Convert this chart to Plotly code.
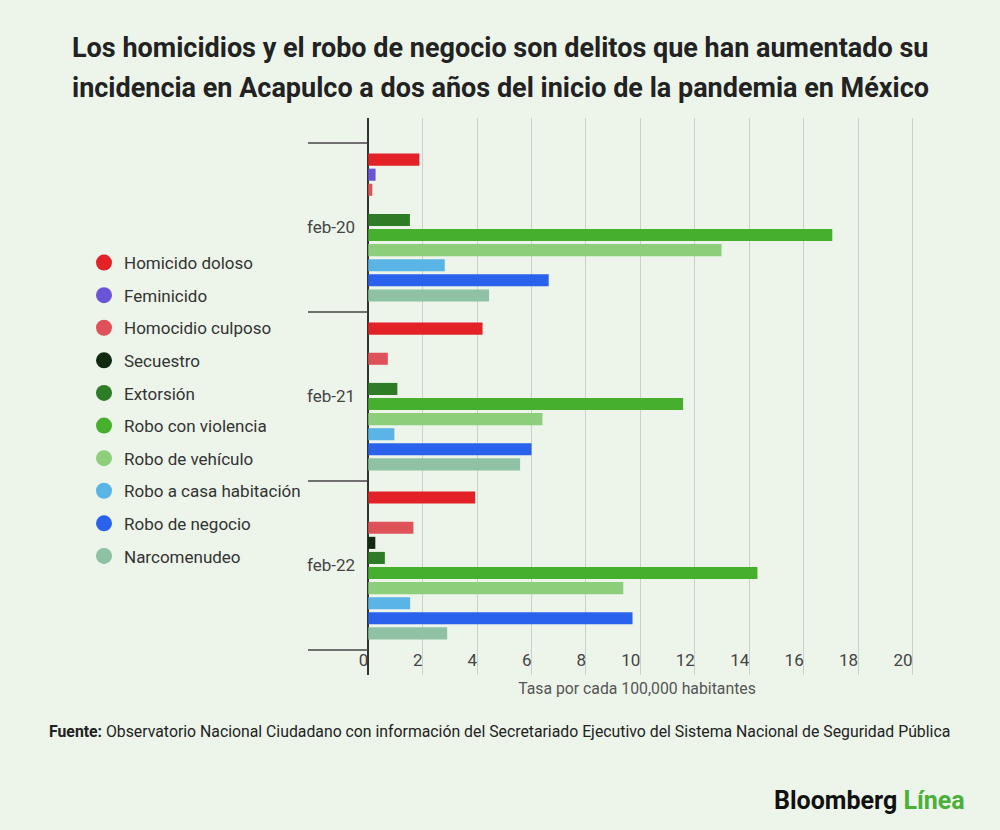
import plotly.graph_objects as go

periods = ["feb-20", "feb-21", "feb-22"]
crimes = ["Homicido doloso", "Feminicido", "Homocidio culposo", "Secuestro",
          "Extorsión", "Robo con violencia", "Robo de vehículo",
          "Robo a casa habitación", "Robo de negocio", "Narcomenudeo"]
colors = ["#E32227", "#6A55D9", "#E0525A", "#0F2A0F", "#2E7D26",
          "#46AF2E", "#8DCE7A", "#5BB4E6", "#2A62EE", "#8FC1A4"]

homicido_doloso = [1.88, 4.2, 3.93]
feminicido = [0.27, 0.0, 0.0]
homicidio_culposo = [0.15, 0.72, 1.66]
secuestro = [0.0, 0.0, 0.26]
extorsion = [1.53, 1.07, 0.61]
robo_violencia = [17.05, 11.57, 14.3]
robo_vehiculo = [12.98, 6.4, 9.37]
robo_casa = [2.81, 0.96, 1.54]
robo_negocio = [6.63, 6.0, 9.71]
narcomenudeo = [4.44, 5.58, 2.9]

series = [homicido_doloso, feminicido, homicidio_culposo, secuestro, extorsion,
          robo_violencia, robo_vehiculo, robo_casa, robo_negocio, narcomenudeo]

x_ticks = [0, 2, 4, 6, 8, 10, 12, 14, 16, 18, 20]

BG = "#EDF5EA"
FONT = "Roboto"

W, H = 1000, 830
ML, MR, MT, MB = 356, 82, 118, 155
PW, PH = W - ML - MR, H - MT - MB
XR = [-0.45, 20.2]


def px_x(p):
    return (p - ML) / PW


def px_y(p):
    return (H - MB - p) / PH


fig = go.Figure()
for name, vals, col in zip(crimes, series, colors):
    fig.add_trace(go.Bar(
        y=periods, x=vals, name=name, orientation="h",
        marker=dict(color=col, line=dict(width=0)),
        showlegend=False, hoverinfo="x+name",
    ))
for name, col in zip(crimes, colors):
    fig.add_trace(go.Scatter(
        x=[None], y=[None], mode="markers", name=name,
        marker=dict(symbol="circle", size=16, color=col),
        legendgroup=name, showlegend=True,
    ))

# category divider ticks on the left of the value axis
n = len(periods)
zero_paper = (0 - XR[0]) / (XR[1] - XR[0])
for k in range(n + 1):
    fig.add_shape(type="line", xref="paper", yref="y",
                  x0=px_x(308), x1=zero_paper, y0=k - 0.5, y1=k - 0.5,
                  line=dict(color="#444444", width=1.3))

fig.update_layout(
    width=W, height=H,
    paper_bgcolor=BG, plot_bgcolor=BG,
    margin=dict(l=ML, r=MR, t=MT, b=MB),
    barmode="group", bargap=0.107, bargroupgap=0.2,
    font=dict(family=FONT, color="#3a3a3a"),
    showlegend=True,
    legend=dict(
        x=px_x(84), xanchor="left", y=px_y(245), yanchor="top",
        font=dict(size=17, color="#333333", family=FONT),
        tracegroupgap=7.5, itemsizing="trace",
        bgcolor="rgba(0,0,0,0)",
    ),
    xaxis=dict(
        range=XR, tickvals=x_ticks, ticktext=[str(v) for v in x_ticks],
        showgrid=True, gridcolor="#C9D1C9", gridwidth=1,
        zeroline=True, zerolinecolor="#333333", zerolinewidth=2,
        showline=False,
        ticklabelposition="inside left",
        tickfont=dict(size=17, color="#444444", family=FONT),
        title=dict(text="Tasa por cada 100,000 habitantes",
                   font=dict(size=15.8, color="#555555", family=FONT),
                   standoff=14),
        fixedrange=True,
    ),
    yaxis=dict(
        categoryorder="array", categoryarray=periods,
        range=[n - 0.5 + 0.148, -0.648],
        showgrid=False, zeroline=False, showline=False,
        ticks="",
        tickfont=dict(size=17, color="#444444", family=FONT),
        fixedrange=True,
    ),
)

title_lines = [
    "Los homicidios y el robo de negocio son delitos que han aumentado su",
    "incidencia en Acapulco a dos años del inicio de la pandemia en México",
]
for line, ypx in zip(title_lines, [48, 88]):
    fig.add_annotation(
        text="<b>" + line + "</b>",
        xref="paper", yref="paper", x=px_x(500), y=px_y(ypx),
        xanchor="center", yanchor="middle", showarrow=False,
        font=dict(size=27, color="#222222", family=FONT),
    )

fig.add_annotation(
    text="<b>Fuente:</b> Observatorio Nacional Ciudadano con información del "
         "Secretariado Ejecutivo del Sistema Nacional de Seguridad Pública",
    xref="paper", yref="paper", x=px_x(47), y=px_y(731),
    xanchor="left", yanchor="middle", showarrow=False,
    font=dict(size=15.8, color="#222222", family=FONT),
)
fig.add_annotation(
    text="<b>Bloomberg</b> <b><span style='color:#4BAF3A'>Línea</span></b>",
    xref="paper", yref="paper", x=px_x(967), y=px_y(800),
    xanchor="right", yanchor="middle", showarrow=False,
    font=dict(size=25, color="#111111", family=FONT, weight=900),
)

fig.write_html(
    "out.html",
    config={"displayModeBar": False},
    post_script="document.body.style.margin='0';document.body.style.overflow='hidden';",
)
